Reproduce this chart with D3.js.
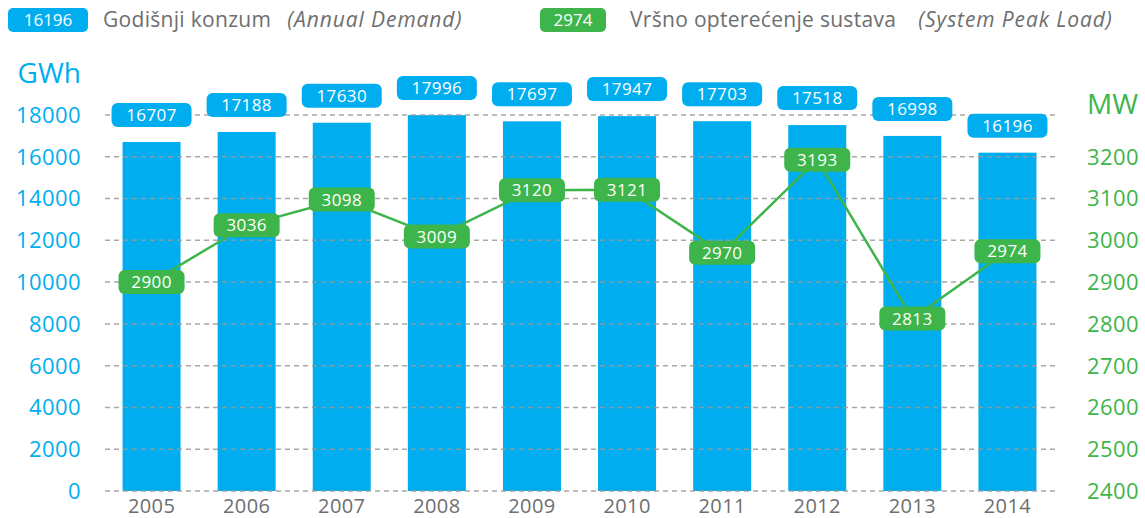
<!DOCTYPE html>
<meta charset="utf-8">
<style>
  body { margin: 0; background: #fff; }
  svg text { font-family: "Open Sans", sans-serif; }
  .tick-left { fill: #00aeef; font-size: 22px; text-anchor: end; letter-spacing: 0.4px; }
  .tick-right { fill: #3db54a; font-size: 22px; text-anchor: start; letter-spacing: 0.4px; }
  .year { fill: #6d6e70; font-size: 20px; text-anchor: middle; letter-spacing: 0.4px; }
  .legend { fill: #6d6e70; font-size: 21px; letter-spacing: 0.3px; }
  .legend .it { font-style: italic; letter-spacing: 0.9px; }
</style>
<script src="https://d3js.org/d3.v7.min.js"></script>
<div id="chart"></div>
<script>
// data
var years = ["2005","2006","2007","2008","2009","2010","2011","2012","2013","2014"];
var demand = [16707, 17188, 17630, 17996, 17697, 17947, 17703, 17518, 16998, 16196];
var peak = [2900, 3036, 3098, 3009, 3120, 3121, 2970, 3193, 2813, 2974];
var leftTicks = [0, 2000, 4000, 6000, 8000, 10000, 12000, 14000, 16000, 18000];
var rightTicks = [2400, 2500, 2600, 2700, 2800, 2900, 3000, 3100, 3200];

var W = 1145, H = 518;
var blue = "#00aeef", green = "#3db54a";

var svg = d3.select("#chart").append("svg")
  .attr("width", W).attr("height", H);

var x = d3.scaleBand()
  .domain(years)
  .range([104, 1055])
  .paddingInner(0.39)
  .paddingOuter(0.195);

var y = d3.scaleLinear().domain([0, 18000]).range([491, 115]);
var y2 = d3.scaleLinear().domain([2400, 3300]).range([491, 115]);

// bars
svg.selectAll("rect.bar")
  .data(demand)
  .enter().append("rect")
  .attr("class", "bar")
  .attr("x", function(d, i) { return x(years[i]); })
  .attr("y", function(d) { return y(d); })
  .attr("width", x.bandwidth())
  .attr("height", function(d) { return y(0) - y(d); })
  .attr("fill", blue);

// grid lines (drawn over the bars)
svg.selectAll("line.grid")
  .data(leftTicks)
  .enter().append("line")
  .attr("class", "grid")
  .attr("x1", 105).attr("x2", 1058)
  .attr("y1", function(d) { return y(d); })
  .attr("y2", function(d) { return y(d); })
  .attr("stroke", "#9a9a9a")
  .attr("stroke-opacity", 0.85)
  .attr("stroke-width", 1.5)
  .attr("stroke-dasharray", "5,4");

// left axis
svg.selectAll("text.tick-left")
  .data(leftTicks)
  .enter().append("text")
  .attr("class", "tick-left")
  .attr("x", 81)
  .attr("y", function(d) { return y(d); })
  .attr("dy", "0.36em")
  .text(function(d) { return d; });

svg.append("text")
  .attr("x", 81).attr("y", 83)
  .attr("text-anchor", "end")
  .style("font-size", "28px")
  .attr("fill", blue)
  .text("GWh");

// right axis
svg.selectAll("text.tick-right")
  .data(rightTicks)
  .enter().append("text")
  .attr("class", "tick-right")
  .attr("x", 1087)
  .attr("y", function(d) { return y2(d); })
  .attr("dy", "0.36em")
  .text(function(d) { return d; });

svg.append("text")
  .attr("x", 1087).attr("y", 114)
  .style("font-size", "28px")
  .attr("fill", green)
  .text("MW");

// years
svg.selectAll("text.year")
  .data(years)
  .enter().append("text")
  .attr("class", "year")
  .attr("x", function(d) { return x(d) + x.bandwidth() / 2; })
  .attr("y", 513)
  .text(function(d) { return d; });

// demand labels
var dl = svg.selectAll("g.dlabel")
  .data(demand)
  .enter().append("g")
  .attr("class", "dlabel")
  .attr("transform", function(d, i) {
    return "translate(" + (x(years[i]) + x.bandwidth() / 2) + "," + (y(d) - 27) + ")";
  });
dl.append("rect")
  .attr("x", -40).attr("y", -12)
  .attr("width", 80).attr("height", 24)
  .attr("rx", 6)
  .attr("fill", blue);
dl.append("text")
  .attr("text-anchor", "middle")
  .attr("dy", "0.36em")
  .attr("fill", "#fff")
  .style("font-size", "17px")
  .style("letter-spacing", "0.4px")
  .text(function(d) { return d; });

// peak line
var line = d3.line()
  .x(function(d, i) { return x(years[i]) + x.bandwidth() / 2; })
  .y(function(d) { return y2(d); });

svg.append("path")
  .datum(peak)
  .attr("d", line)
  .attr("fill", "none")
  .attr("stroke", green)
  .attr("stroke-width", 2.5);

var pl = svg.selectAll("g.plabel")
  .data(peak)
  .enter().append("g")
  .attr("class", "plabel")
  .attr("transform", function(d, i) {
    return "translate(" + (x(years[i]) + x.bandwidth() / 2) + "," + y2(d) + ")";
  });
pl.append("rect")
  .attr("x", -33).attr("y", -12)
  .attr("width", 66).attr("height", 24)
  .attr("rx", 6)
  .attr("fill", green);
pl.append("text")
  .attr("text-anchor", "middle")
  .attr("dy", "0.36em")
  .attr("fill", "#fff")
  .style("font-size", "17px")
  .style("letter-spacing", "0.4px")
  .text(function(d) { return d; });

// legend
var lg1 = svg.append("g").attr("transform", "translate(8,8)");
lg1.append("rect").attr("width", 80).attr("height", 24).attr("rx", 5).attr("fill", blue);
lg1.append("text").attr("x", 40).attr("y", 12).attr("dy", "0.36em")
  .attr("text-anchor", "middle").attr("fill", "#fff").style("font-size", "17px")
  .text(demand[demand.length - 1]);
var t1 = svg.append("text").attr("class", "legend").attr("x", 103).attr("y", 27);
t1.append("tspan").text("Godišnji konzum");
t1.append("tspan").attr("class", "it").attr("dx", 16).text("(Annual Demand)");

var lg2 = svg.append("g").attr("transform", "translate(540,8)");
lg2.append("rect").attr("width", 66).attr("height", 24).attr("rx", 5).attr("fill", green);
lg2.append("text").attr("x", 33).attr("y", 12).attr("dy", "0.36em")
  .attr("text-anchor", "middle").attr("fill", "#fff").style("font-size", "17px")
  .text(peak[peak.length - 1]);
var t2 = svg.append("text").attr("class", "legend").attr("x", 630).attr("y", 27);
t2.append("tspan").text("Vršno opterećenje sustava");
t2.append("tspan").attr("class", "it").attr("dx", 22).text("(System Peak Load)");
</script>
